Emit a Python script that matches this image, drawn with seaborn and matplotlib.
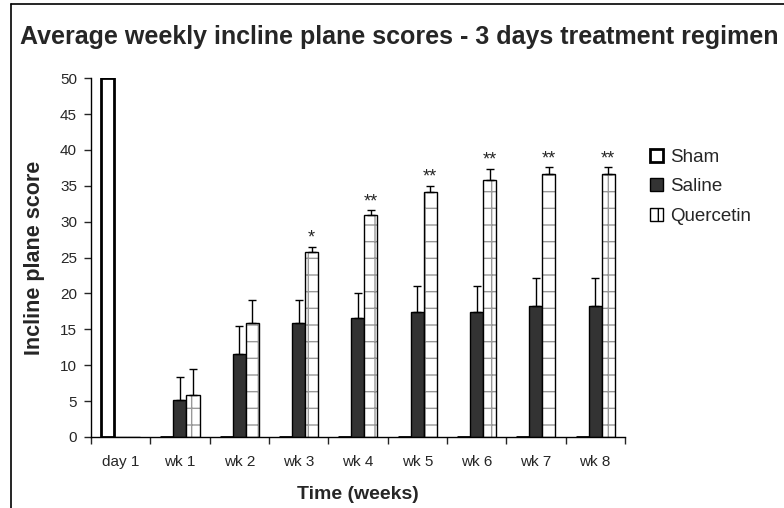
import pandas as pd
import numpy as np
import matplotlib
matplotlib.use("Agg")
import matplotlib.pyplot as plt
import seaborn as sns
from matplotlib.lines import Line2D
from matplotlib.patches import Patch, Rectangle

# data
times = ['day 1', 'wk 1', 'wk 2', 'wk 3', 'wk 4', 'wk 5', 'wk 6', 'wk 7', 'wk 8']
groups = ['Sham', 'Saline', 'Quercetin']
sham = [50, 0, 0, 0, 0, 0, 0, 0, 0]
saline = [0, 5.1, 11.6, 15.9, 16.6, 17.4, 17.4, 18.3, 18.3]
saline_err = [0, 3.2, 3.9, 3.2, 3.4, 3.7, 3.7, 3.8, 3.8]
quercetin = [0, 5.8, 15.9, 25.8, 30.9, 34.1, 35.8, 36.7, 36.7]
quercetin_err = [0, 3.7, 3.2, 0.7, 0.7, 0.9, 1.6, 0.9, 0.9]
stars = ['', '', '', '*', '**', '**', '**', '**', '**']

rows = []
for vals, g in zip([sham, saline, quercetin], groups):
    for t, v in zip(times, vals):
        rows.append({'time': t, 'group': g, 'score': v})
df = pd.DataFrame(rows)

sns.set_style("white")
plt.rcParams['font.family'] = ['Liberation Sans', 'DejaVu Sans']
plt.rcParams['hatch.linewidth'] = 1.0

fig = plt.figure(figsize=(7.84, 5.08), dpi=100)
ax = fig.add_axes([0.116, 0.140, 0.681, 0.706])

sns.barplot(data=df, x='time', y='score', hue='group', order=times, hue_order=groups,
            palette={'Sham': 'white', 'Saline': '#333333', 'Quercetin': 'white'},
            width=0.66, edgecolor='black', linewidth=1, saturation=1,
            errorbar=None, legend=False, ax=ax)

sham_bars, saline_bars, querc_bars = ax.containers[0], ax.containers[1], ax.containers[2]
for b in sham_bars:
    b.set_linewidth(2)
# dotted grid fill in grey, then a black outline on top
for b in querc_bars:
    b.set_hatch('+')
    b.set_edgecolor('#999999')
    b.set_linewidth(0)
    ax.add_patch(Rectangle((b.get_x(), b.get_y()), b.get_width(), b.get_height(),
                           fill=False, edgecolor='black', linewidth=1, zorder=b.get_zorder() + 0.1))

# upward error bars
for bars, vals, errs in [(saline_bars, saline, saline_err), (querc_bars, quercetin, quercetin_err)]:
    xs = np.array([b.get_x() + b.get_width() / 2 for b in bars])
    v = np.array(vals)
    e = np.array(errs)
    m = e > 0
    ax.errorbar(xs[m], v[m], yerr=[np.zeros(m.sum()), e[m]], fmt='none',
                ecolor='black', elinewidth=1, capsize=3, capthick=1, zorder=1)

# significance stars
for b, v, e, s in zip(querc_bars, quercetin, quercetin_err, stars):
    if s:
        ax.annotate(s, (b.get_x() + b.get_width() / 2, v + e), xytext=(0, 0),
                    textcoords='offset points', ha='center', va='bottom', fontsize=13)

ax.set_ylim(0, 50)
ax.set_xlim(-0.5, 8.5)
ax.set_yticks(range(0, 51, 5))
ax.set_xticks(np.arange(-0.5, 9, 1), minor=True)
ax.tick_params(axis='x', which='major', length=0, pad=13, labelsize=11)
ax.tick_params(axis='x', which='minor', length=5, width=1, direction='out', bottom=True)
ax.tick_params(axis='y', length=5, width=1, direction='out', left=True, labelsize=11, pad=5)
for sp in ['top', 'right']:
    ax.spines[sp].set_visible(False)
for sp in ['left', 'bottom']:
    ax.spines[sp].set_color('black')
    ax.spines[sp].set_linewidth(1)

ax.set_xlabel('Time (weeks)', fontsize=14, fontweight='bold', labelpad=12)
ax.set_ylabel('Incline plane score', fontsize=15.5, fontweight='bold', labelpad=11)

fig.text(0.026, 0.927, 'Average weekly incline plane scores - 3 days treatment regimen',
         fontsize=18, fontweight='bold', ha='left', va='center')

handles = [Patch(facecolor='white', edgecolor='black', linewidth=2, label='Sham'),
           Patch(facecolor='#333333', edgecolor='black', linewidth=1, label='Saline'),
           Patch(facecolor='white', edgecolor='black', linewidth=1, hatch='+', label='Quercetin')]
fig.legend(handles=handles, loc='upper left', bbox_to_anchor=(0.807, 0.74), frameon=False,
           fontsize=13.5, handlelength=0.7, handleheight=0.7, handletextpad=0.4, labelspacing=0.65)

# outer border lines
fig.add_artist(Line2D([0.014, 0.014], [0, 0.992], color='black', lw=1.2))
fig.add_artist(Line2D([0.014, 1.0], [0.992, 0.992], color='black', lw=1.2))

fig.savefig('out.png', dpi=100)
